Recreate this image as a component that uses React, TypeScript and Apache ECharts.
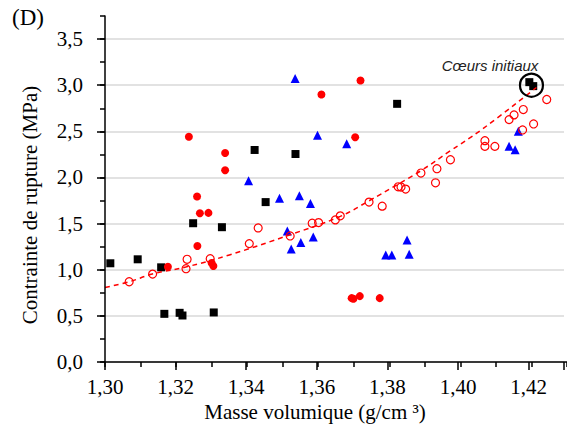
import React, { useEffect, useRef } from "react";
import * as echarts from "echarts";

// ---- data ----
const blackSquares: number[][] = [
  [1.3015, 1.07], [1.3092, 1.113], [1.3158, 1.026], [1.3167, 0.522],
  [1.321, 0.533], [1.3218, 0.504], [1.3306, 0.537], [1.3248, 1.504],
  [1.3329, 1.461], [1.3421, 2.298], [1.3536, 2.254], [1.3452, 1.733],
  [1.3822, 2.798], [1.4194, 3.033], [1.4205, 2.99],
];

const redFilled: number[][] = [
  [1.3236, 2.442], [1.3338, 2.265], [1.3338, 2.078], [1.3259, 1.794],
  [1.3267, 1.613], [1.3291, 1.616], [1.326, 1.258], [1.3177, 1.033],
  [1.33, 1.073], [1.3305, 1.04], [1.3609, 2.899], [1.3704, 2.435],
  [1.3719, 3.051], [1.3694, 0.692], [1.3699, 0.685], [1.3717, 0.714],
  [1.3773, 0.692],
];

const blueTriangles: number[][] = [
  [1.3404, 1.964], [1.3535, 3.073], [1.3598, 2.457], [1.368, 2.366],
  [1.3491, 1.776], [1.3547, 1.801], [1.3578, 1.717], [1.3513, 1.421],
  [1.3524, 1.225], [1.3551, 1.294], [1.3586, 1.355], [1.385, 1.323],
  [1.379, 1.16], [1.3807, 1.16], [1.3856, 1.167], [1.4137, 2.337],
  [1.4154, 2.301], [1.4163, 2.5],
];

const redOpen: number[][] = [
  [1.3068, 0.87], [1.3134, 0.953], [1.3228, 1.011], [1.3231, 1.113],
  [1.3296, 1.12], [1.3406, 1.283], [1.3431, 1.453], [1.3521, 1.366],
  [1.3583, 1.504], [1.3601, 1.511], [1.3648, 1.54], [1.3662, 1.584],
  [1.3743, 1.733], [1.378, 1.689], [1.3825, 1.899], [1.3833, 1.896],
  [1.3846, 1.874], [1.3889, 2.048], [1.393, 1.942], [1.3934, 2.095],
  [1.3972, 2.192], [1.4069, 2.399], [1.4069, 2.337], [1.4097, 2.337],
  [1.4137, 2.627], [1.4151, 2.678], [1.4177, 2.736], [1.4175, 2.515],
  [1.4206, 2.58], [1.4243, 2.845],
];

const trendLine: number[][] = [
  [1.3, 0.807], [1.307, 0.872], [1.3133, 0.953], [1.3227, 1.029],
  [1.335, 1.16], [1.3519, 1.377], [1.3662, 1.578], [1.3743, 1.747],
  [1.3827, 1.932], [1.3889, 2.073], [1.3968, 2.279], [1.406, 2.519],
  [1.4214, 2.975],
];

const initialCores: number[][] = [[1.42, 3.0]];

const xMajorTicks = [1.3, 1.32, 1.34, 1.36, 1.38, 1.4, 1.42];
const yMajorTicks = [0, 0.5, 1, 1.5, 2, 2.5, 3, 3.5];

const SERIF = '"Liberation Serif", "DejaVu Serif", serif';

const fmt = (v: number, d: number) => v.toFixed(d).replace(".", ",");

export default function App() {
  const ref = useRef<HTMLDivElement>(null);

  useEffect(() => {
    if (!ref.current) return;
    const chart = echarts.init(ref.current, null, { renderer: "svg" });

    const scatterBase = { type: "scatter", xAxisIndex: 0, yAxisIndex: 0 };

    chart.setOption({
      animation: false,
      backgroundColor: "#ffffff",
      grid: [
        { left: 105, right: -2, top: 16, bottom: 66 },
        { left: 105, right: -2, top: 39.07, bottom: 66 },
      ],
      xAxis: [
        {
          gridIndex: 0,
          type: "value",
          min: 1.3,
          max: 1.43,
          interval: 0.01,
          z: 5,
          axisLine: { show: true, lineStyle: { color: "#000", width: 1.5 } },
          axisTick: { show: true, length: 5, lineStyle: { color: "#000", width: 1.5 } },
          axisLabel: { show: false },
          splitLine: { show: false },
        },
        {
          gridIndex: 1,
          type: "value",
          min: 1.3,
          max: 1.43,
          interval: 0.02,
          axisLine: { show: false },
          axisTick: { show: true, length: 8, lineStyle: { color: "#000", width: 1.5 } },
          axisLabel: {
            show: true,
            margin: 14,
            color: "#000",
            fontFamily: SERIF,
            fontSize: 21,
            formatter: (v: number) =>
              xMajorTicks.some((t) => Math.abs(t - v) < 1e-6) ? fmt(v, 2) : "",
          },
          splitLine: { show: false },
        },
      ],
      yAxis: [
        {
          gridIndex: 0,
          type: "value",
          min: 0,
          max: 3.75,
          interval: 0.25,
          z: 5,
          axisLine: { show: true, lineStyle: { color: "#000", width: 1.5 } },
          axisTick: { show: true, length: 5, lineStyle: { color: "#000", width: 1.5 } },
          axisLabel: { show: false },
          splitLine: { show: false },
        },
        {
          gridIndex: 1,
          type: "value",
          min: 0,
          max: 3.5,
          interval: 0.5,
          axisLine: { show: false },
          axisTick: { show: true, length: 8, lineStyle: { color: "#000", width: 1.5 } },
          axisLabel: {
            show: true,
            margin: 22,
            color: "#000",
            fontFamily: SERIF,
            fontSize: 21,
            formatter: (v: number) =>
              yMajorTicks.some((t) => Math.abs(t - v) < 1e-6) ? fmt(v, 1) : "",
          },
          splitLine: { show: true, lineStyle: { color: "#d9d9d9", width: 1.5 } },
        },
      ],
      series: [
        {
          ...scatterBase,
          name: "black",
          data: blackSquares,
          symbol: "rect",
          symbolSize: 8,
          itemStyle: { color: "#000", opacity: 1 },
        },
        {
          ...scatterBase,
          name: "redFilled",
          data: redFilled,
          symbol: "circle",
          symbolSize: 8,
          itemStyle: { color: "#ff0000", opacity: 1 },
        },
        {
          ...scatterBase,
          name: "blue",
          data: blueTriangles,
          symbol: "triangle",
          symbolSize: 9,
          itemStyle: { color: "#0000ff", opacity: 1 },
        },
        {
          ...scatterBase,
          name: "redOpen",
          data: redOpen,
          symbol: "circle",
          symbolSize: 8,
          itemStyle: {
            color: "rgba(0,0,0,0)",
            borderColor: "#ff0000",
            borderWidth: 1.2,
            opacity: 1,
          },
        },
        {
          type: "line",
          name: "trend",
          xAxisIndex: 0,
          yAxisIndex: 0,
          data: trendLine,
          smooth: 0.4,
          showSymbol: false,
          symbol: "none",
          lineStyle: { color: "#ff0000", width: 1.5, type: [5, 4] },
          z: 4,
        },
        {
          ...scatterBase,
          name: "cores",
          data: initialCores,
          symbol: "circle",
          symbolSize: 23,
          z: 6,
          itemStyle: {
            color: "rgba(0,0,0,0)",
            borderColor: "#000",
            borderWidth: 2.2,
            opacity: 1,
          },
        },
      ],
      graphic: [
        {
          type: "text",
          left: 12,
          top: 6,
          style: { text: "(D)", fontFamily: SERIF, fontSize: 23, fill: "#000" },
        },
        {
          type: "text",
          x: 30,
          y: 205,
          rotation: Math.PI / 2,
          style: {
            text: "Contrainte de rupture (MPa)",
            fontFamily: SERIF,
            fontSize: 21,
            fill: "#000",
            align: "center",
            verticalAlign: "middle",
          },
        },
        {
          type: "text",
          x: 315,
          y: 412,
          style: {
            text: "Masse volumique (g/cm ³)",
            fontFamily: SERIF,
            fontSize: 21,
            fill: "#000",
            align: "center",
            verticalAlign: "middle",
          },
        },
        {
          type: "text",
          x: 490,
          y: 65,
          style: {
            text: "Cœurs initiaux",
            fontFamily: '"Liberation Sans", "DejaVu Sans", sans-serif',
            fontStyle: "italic",
            fontSize: 15,
            fill: "#222",
            align: "center",
            verticalAlign: "middle",
          },
        },
      ],
    });

    return () => chart.dispose();
  }, []);

  return (
    <div
      ref={ref}
      style={{ position: "fixed", left: 0, top: 0, width: 567, height: 428 }}
    />
  );
}
